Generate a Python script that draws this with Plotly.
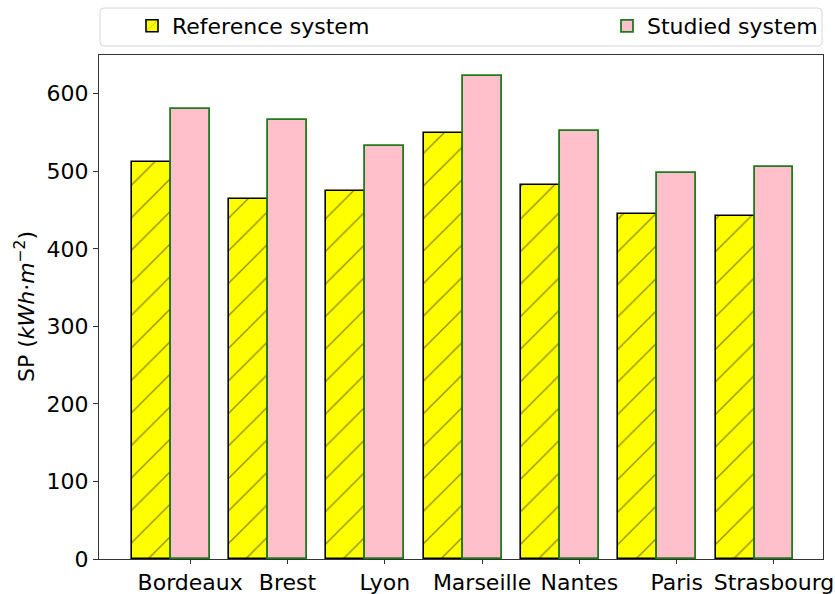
import plotly.graph_objects as go

cities = ["Bordeaux", "Brest", "Lyon", "Marseille", "Nantes", "Paris", "Strasbourg"]
reference_sp = [512, 464, 475, 549, 482, 445, 443]
studied_sp = [580, 566, 533, 623, 552, 498, 506]
y_ticks = [0, 100, 200, 300, 400, 500, 600]

positions = list(range(len(cities)))
bar_w = 0.4

FONT = "DejaVu Sans"
FS = 22
W, H = 835, 594
ML, MR, MT, MB = 99, 12, 55, 35

fig = go.Figure()
fig.add_trace(go.Bar(
    x=positions, y=reference_sp, name="Reference system", legend="legend",
    offset=-bar_w, width=bar_w,
    marker=dict(color="#ffff00", line=dict(color="black", width=1.6),
                pattern=dict(shape="/", fgcolor="#111111", bgcolor="#ffff00",
                             size=23, solidity=0.055, fillmode="overlay")),
))
fig.add_trace(go.Bar(
    x=positions, y=studied_sp, name="Studied system", legend="legend2",
    offset=0, width=bar_w,
    marker=dict(color="#ffc0cb", line=dict(color="#1e7b1e", width=1.8)),
))

pw = W - ML - MR
ph = H - MT - MB

def px_x(p):
    return (p - ML) / pw

def px_y(p):
    return 1 + (MT - p) / ph

# legend frame across the top
x0, x1 = px_x(100), px_x(822)
y0, y1 = px_y(46), px_y(8)
rx, ry = 4 / pw, 4 / ph
frame = (f"M{x0+rx},{y1} L{x1-rx},{y1} Q{x1},{y1} {x1},{y1-ry} "
         f"L{x1},{y0+ry} Q{x1},{y0} {x1-rx},{y0} L{x0+rx},{y0} "
         f"Q{x0},{y0} {x0},{y0+ry} L{x0},{y1-ry} Q{x0},{y1} {x0+rx},{y1} Z")

legend_y = 1 - 26 / H
fig.update_layout(
    width=W, height=H,
    margin=dict(l=ML, r=MR, t=MT, b=MB, autoexpand=False),
    paper_bgcolor="white", plot_bgcolor="white",
    font=dict(family=FONT, size=FS, color="black"),
    bargap=0, showlegend=True,
    legend=dict(xref="container", yref="container", x=132 / W, y=legend_y,
                xanchor="left", yanchor="middle",
                bgcolor="rgba(0,0,0,0)", font=dict(size=FS)),
    legend2=dict(xref="container", yref="container", x=607 / W, y=legend_y,
                 xanchor="left", yanchor="middle",
                 bgcolor="rgba(0,0,0,0)", font=dict(size=FS)),
    shapes=[dict(type="path", xref="paper", yref="paper", path=frame,
                 line=dict(color="#d6d6d6", width=1), fillcolor="rgba(255,255,255,0.8)",
                 layer="below")],
    annotations=[dict(text="SP (<i>kWh</i>·<i>m</i><sup>−2</sup>)", textangle=-90,
                      xref="paper", yref="paper", x=px_x(25), y=0.5,
                      xanchor="center", yanchor="middle", showarrow=False,
                      font=dict(size=FS))],
    xaxis=dict(
        range=[-0.737, 6.704], automargin=False,
        tickmode="array", tickvals=[p + bar_w / 2 for p in positions], ticktext=cities,
        ticks="outside", ticklen=4, tickcolor="#333", tickwidth=1,
        showgrid=False, zeroline=False,
        showline=True, linecolor="#333", linewidth=1, mirror=True,
        tickfont=dict(size=FS),
    ),
    yaxis=dict(
        range=[0, 650], automargin=False,
        tickmode="array", tickvals=y_ticks,
        ticks="outside", ticklen=5, tickcolor="#333", tickwidth=1,
        showgrid=False, zeroline=False,
        showline=True, linecolor="#333", linewidth=1, mirror=True,
        tickfont=dict(size=FS),
    ),
)

fig.write_html("out.html")
